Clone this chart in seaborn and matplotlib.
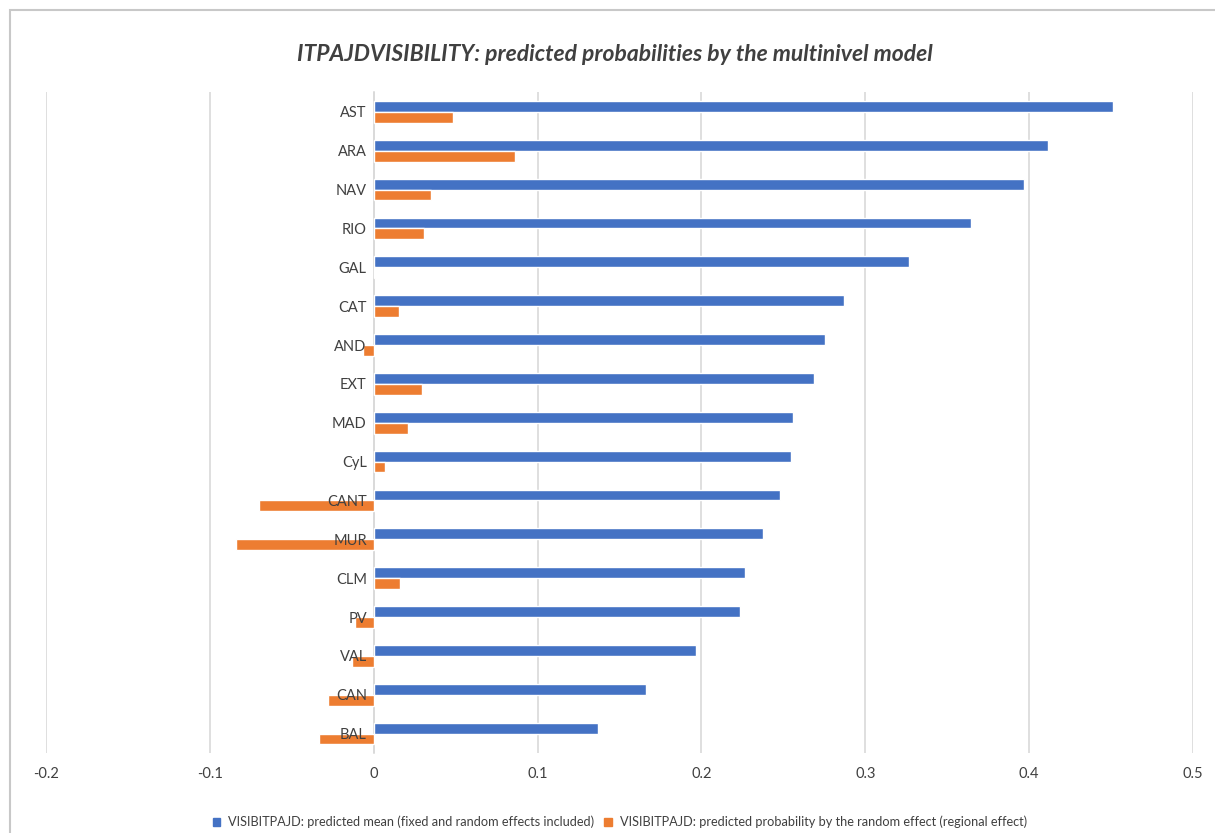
import seaborn as sns
import matplotlib.pyplot as plt
import matplotlib.patches as mpatches
import pandas as pd

# Regions, top to bottom
regions = ["AST", "ARA", "NAV", "RIO", "GAL", "CAT", "AND", "EXT", "MAD",
           "CyL", "CANT", "MUR", "CLM", "PV", "VAL", "CAN", "BAL"]

# Predicted mean (fixed and random effects included)
pred_mean = [0.451, 0.4115, 0.397, 0.3645, 0.3266, 0.287, 0.2753, 0.2686, 0.2558,
             0.2546, 0.2479, 0.2375, 0.2265, 0.2234, 0.1966, 0.166, 0.1368]

# Predicted probability by the random effect (regional effect)
pred_random = [0.0482, 0.0861, 0.0348, 0.0305, 0.0008, 0.0153, -0.0067, 0.0293, 0.0208,
               0.0067, -0.0703, -0.0841, 0.016, -0.0114, -0.0133, -0.028, -0.0335]

series_names = ["VISIBITPAJD: predicted mean (fixed and random effects included)",
                "VISIBITPAJD: predicted probability by the random effect (regional effect)"]
colors = ["#4472C4", "#ED7D31"]
x_ticks = [-0.2, -0.1, 0, 0.1, 0.2, 0.3, 0.4, 0.5]

df = pd.DataFrame({
    "region": regions * 2,
    "value": pred_mean + pred_random,
    "series": [series_names[0]] * len(regions) + [series_names[1]] * len(regions),
})

sns.set_style("white")
plt.rcParams['font.family'] = ['Lato', 'DejaVu Sans']

fig = plt.figure(figsize=(12.15, 8.33), dpi=100)
ax = fig.add_axes([0.0379, 0.096, 0.944, 0.793])

sns.barplot(data=df, y="region", x="value", hue="series", orient="h",
            palette=colors, width=0.56, gap=0, saturation=1,
            order=regions, hue_order=series_names, ax=ax, legend=False)

ax.set_xlim(-0.2, 0.5)
ax.set_ylim(len(regions) - 0.5, -0.5)
ax.set_xticks(x_ticks)
ax.set_xticklabels([f"{t:g}" for t in x_ticks])
ax.xaxis.grid(True, color="#D9D9D9", linewidth=1.2)
ax.set_axisbelow(True)
ax.yaxis.set_zorder(5)  # region labels drawn over the bars, like Excel
ax.set_xlabel("")
ax.set_ylabel("")

# category labels sit at x = 0
ax.spines["left"].set_position(("data", 0))
ax.spines["left"].set_color("#D9D9D9")
ax.spines["left"].set_linewidth(1.2)
ax.spines["left"].set_zorder(0.6)
for s in ["top", "right", "bottom"]:
    ax.spines[s].set_visible(False)
ax.tick_params(axis="both", length=0, colors="#404040", labelsize=10.5)
ax.tick_params(axis="y", pad=5)
ax.tick_params(axis="x", pad=10)

fig.text(0.506, 0.934, "ITPAJDVISIBILITY: predicted probabilities by the multinivel model",
         ha="center", va="center", fontsize=16.5, fontweight="bold", style="italic",
         color="#404040")

handles = [mpatches.Patch(color=c, label=n) for c, n in zip(colors, series_names)]
fig.legend(handles=handles, loc="center", bbox_to_anchor=(0.51, 0.013), ncol=2,
           frameon=False, fontsize=9.2, handlelength=0.6, handleheight=0.6,
           columnspacing=0.8, handletextpad=0.6, labelcolor="#404040")

# chart border
fig.patches.append(mpatches.Rectangle((10 / 1215, -0.01), 1.02, 1 - 10 / 833 + 0.01,
                                      transform=fig.transFigure, fill=False,
                                      edgecolor="#C8C8C8", linewidth=1.5))

fig.savefig("out.png", dpi=100)
